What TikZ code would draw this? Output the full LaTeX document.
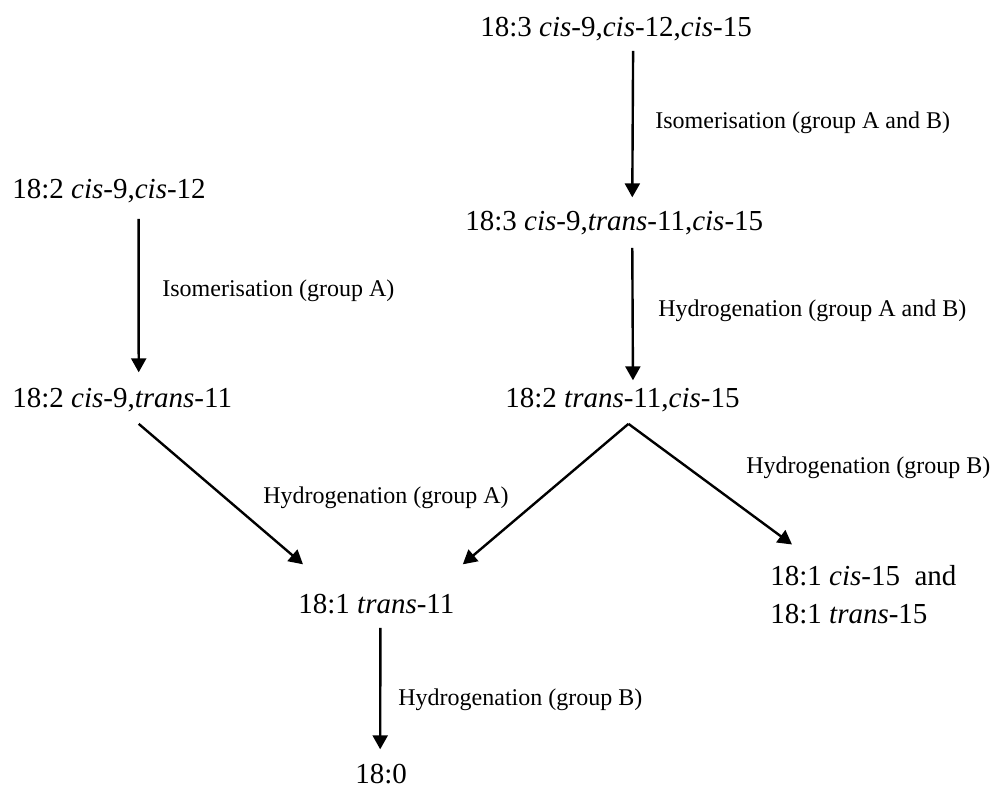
\documentclass[tikz,border=0pt]{standalone}
\usepackage{fontspec}
\setmainfont{Liberation Serif}
\usepackage{tikz}
\usetikzlibrary{arrows.meta,calc}

\begin{document}
\begin{tikzpicture}[x=0.5pt,y=-0.5pt,
		  acid/.style={inner sep=0pt,anchor=base west,font=\fontsize{14.5}{19}\selectfont},
		  step label/.style={inner sep=0pt,anchor=base west,font=\fontsize{12}{14}\selectfont},
		  conv/.style={line width=1.2pt,-{Triangle[length=7pt,width=7.5pt]}}
		]
			\useasboundingbox (0,0) rectangle (992,787);

			% the fatty acids
			\node[acid] (tri) at (480,36) {18:3 \textit{cis}-9,\textit{cis}-12,\textit{cis}-15};
			\node[acid] (triiso) at (465,230) {18:3 \textit{cis}-9,\textit{trans}-11,\textit{cis}-15};
			\node[acid] (diene) at (505,407) {18:2 \textit{trans}-11,\textit{cis}-15};
			\node[acid] (lino) at (12,198) {18:2 \textit{cis}-9,\textit{cis}-12};
			\node[acid] (cla) at (12,407) {18:2 \textit{cis}-9,\textit{trans}-11};
			\node[acid] (vacc) at (298,613) {18:1 \textit{trans}-11};
			\node[acid,align=left] (mono) at (770,623) {18:1 \textit{cis}-15\ \ and\\18:1 \textit{trans}-15};
			\node[acid] (stear) at (355,783) {18:0};

			% the reactions
			\node[step label] (l1) at (655,128) {Isomerisation (group A and B)};
			\node[step label] (l2) at (658,316) {Hydrogenation (group A and B)};
			\node[step label] (l3) at (162,296) {Isomerisation (group A)};
			\node[step label] (l4) at (263,503) {Hydrogenation (group A)};
			\node[step label] (l5) at (746,473) {Hydrogenation (group B)};
			\node[step label] (l6) at (398,705) {Hydrogenation (group B)};

			% the arrows
			\draw[conv] ([xshift=8.5pt,yshift=-5pt]tri.south) -- ([xshift=9pt,yshift=6.5pt]triiso.north);
			\draw[conv] ([xshift=9pt,yshift=-6.5pt]triiso.south) -- ([xshift=5.25pt,yshift=3.5pt]diene.north);
			\draw[conv] ([xshift=14.75pt,yshift=-8pt]lino.south) -- ([xshift=8.25pt,yshift=7.5pt]cla.north);
			\draw[conv] ([xshift=8.25pt,yshift=-6pt]cla.south) -- ([xshift=2.5pt,yshift=14.5pt]vacc.north west);
			\draw[conv] ([xshift=3pt,yshift=-6pt]diene.south) -- ([xshift=4pt,yshift=14.5pt]vacc.north east);
			\draw[conv] ([xshift=3pt,yshift=-6pt]diene.south) -- ([xshift=11pt,yshift=10pt]mono.north west);
			\draw[conv] ([xshift=2pt,yshift=-7pt]vacc.south) -- ([xshift=-0.5pt,yshift=7pt]stear.north);

		\end{tikzpicture}
\end{document}
